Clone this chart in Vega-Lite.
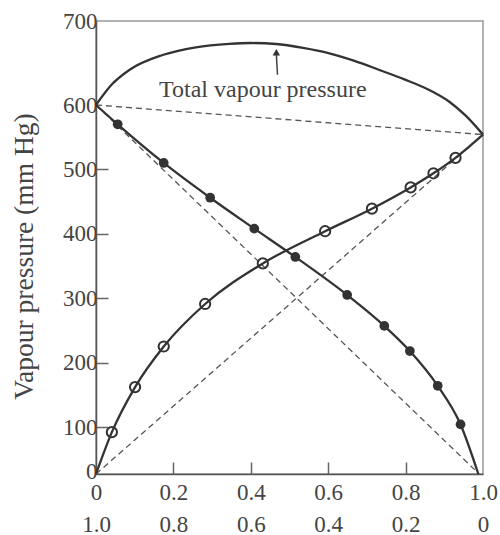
{
  "$schema": "https://vega.github.io/schema/vega-lite/v6.json",
  "width": 387,
  "height": 453,
  "autosize": {"type": "none"},
  "padding": {"left": 96, "top": 21, "right": 17, "bottom": 61},
  "background": "white",
  "config": {
    "view": {"stroke": "#999", "strokeWidth": 1.5},
    "font": "Liberation Serif"
  },
  "datasets": {
    "curves": [
      {"series": "A", "x": 0, "y": 600, "pt": false},
      {"series": "A", "x": 0.056, "y": 570, "pt": true},
      {"series": "A", "x": 0.175, "y": 510, "pt": true},
      {"series": "A", "x": 0.295, "y": 456, "pt": true},
      {"series": "A", "x": 0.409, "y": 408, "pt": true},
      {"series": "A", "x": 0.515, "y": 364, "pt": true},
      {"series": "A", "x": 0.649, "y": 305, "pt": true},
      {"series": "A", "x": 0.745, "y": 257, "pt": true},
      {"series": "A", "x": 0.811, "y": 218, "pt": true},
      {"series": "A", "x": 0.883, "y": 164, "pt": true},
      {"series": "A", "x": 0.942, "y": 104, "pt": true},
      {"series": "A", "x": 0.988, "y": 0, "pt": false},
      {"series": "B", "x": 0, "y": 0, "pt": false},
      {"series": "B", "x": 0.041, "y": 89, "pt": true},
      {"series": "B", "x": 0.101, "y": 162, "pt": true},
      {"series": "B", "x": 0.175, "y": 225, "pt": true},
      {"series": "B", "x": 0.282, "y": 291, "pt": true},
      {"series": "B", "x": 0.431, "y": 354, "pt": true},
      {"series": "B", "x": 0.592, "y": 404, "pt": true},
      {"series": "B", "x": 0.713, "y": 439, "pt": true},
      {"series": "B", "x": 0.813, "y": 472, "pt": true},
      {"series": "B", "x": 0.872, "y": 494, "pt": true},
      {"series": "B", "x": 0.929, "y": 518, "pt": true},
      {"series": "B", "x": 1, "y": 554, "pt": false},
      {"series": "Total", "x": 0, "y": 600, "pt": false},
      {"series": "Total", "x": 0.04, "y": 624, "pt": false},
      {"series": "Total", "x": 0.086, "y": 641.7, "pt": false},
      {"series": "Total", "x": 0.172, "y": 659.5, "pt": false},
      {"series": "Total", "x": 0.258, "y": 668.7, "pt": false},
      {"series": "Total", "x": 0.344, "y": 672.8, "pt": false},
      {"series": "Total", "x": 0.40, "y": 673.8, "pt": false},
      {"series": "Total", "x": 0.465, "y": 672.6, "pt": false},
      {"series": "Total", "x": 0.535, "y": 668, "pt": false},
      {"series": "Total", "x": 0.603, "y": 661.5, "pt": false},
      {"series": "Total", "x": 0.668, "y": 652.5, "pt": false},
      {"series": "Total", "x": 0.732, "y": 641.7, "pt": false},
      {"series": "Total", "x": 0.797, "y": 630.5, "pt": false},
      {"series": "Total", "x": 0.861, "y": 617.9, "pt": false},
      {"series": "Total", "x": 0.913, "y": 603.9, "pt": false},
      {"series": "Total", "x": 0.956, "y": 583, "pt": false},
      {"series": "Total", "x": 1, "y": 554, "pt": false}
    ],
    "ideal": [
      {"series": "A ideal", "x": 0, "y": 600},
      {"series": "A ideal", "x": 0.99, "y": 0},
      {"series": "B ideal", "x": 0, "y": 0},
      {"series": "B ideal", "x": 1, "y": 554},
      {"series": "Total ideal", "x": 0, "y": 600},
      {"series": "Total ideal", "x": 1, "y": 554}
    ],
    "label": [
      {"x": 0.431, "y": 610, "text": "Total vapour pressure"}
    ],
    "arrow": [
      {"x": 0.469, "y": 636, "x2": 0.466, "y2": 660}
    ],
    "arrowhead": [
      {"x": 0.466, "y": 662.7}
    ]
  },
  "encoding": {
    "x": {
      "field": "x",
      "type": "quantitative",
      "scale": {"domain": [0, 1], "nice": false, "zero": false},
      "axis": {
        "values": [0, 0.2, 0.4, 0.6, 0.8, 1],
        "title": null,
        "grid": false,
        "domainColor": "#555",
        "domainWidth": 1.5,
        "tickColor": "#666",
        "tickWidth": 1.5,
        "tickSize": -12,
        "tickOpacity": {"condition": {"test": "datum.value > 0.01 && datum.value < 0.99", "value": 1}, "value": 0},
        "labelFont": "Liberation Serif",
        "labelFontSize": 23,
        "labelColor": "#444",
        "labelPadding": 19,
        "labelLineHeight": 32,
        "labelFlush": false,
        "labelOverlap": false,
        "labelExpr": "[datum.value == 0 ? '0' : format(datum.value, '.1f'), datum.value == 1 ? '0' : format(1 - datum.value, '.1f')]"
      }
    },
    "y": {
      "field": "y",
      "type": "quantitative",
      "scale": {"domain": [0, 100, 600, 700], "range": [453, 406, 84, 0], "nice": false, "zero": false},
      "axis": {
        "values": [0, 100, 200, 300, 400, 500, 600, 700],
        "grid": false,
        "domainColor": "#555",
        "domainWidth": 1.5,
        "tickColor": "#666",
        "tickWidth": 1.5,
        "tickSize": -12,
        "tickOpacity": {"condition": {"test": "datum.value >= 100 && datum.value <= 500", "value": 1}, "value": 0},
        "labelFont": "Liberation Serif",
        "labelFontSize": 23,
        "labelColor": "#444",
        "labelPadding": 11,
        "labelOffset": {"condition": {"test": "datum.value == 0", "value": -3}, "value": 0},
        "labelFlush": false,
        "labelOverlap": false,
        "title": "Vapour pressure (mm Hg)",
        "titleFont": "Liberation Serif",
        "titleFontSize": 27.5,
        "titleFontWeight": "normal",
        "titleColor": "#444",
        "titleX": -64,
        "titleY": 235,
        "titleAngle": -90,
        "titleAlign": "center",
        "titleBaseline": "alphabetic"
      }
    }
  },
  "layer": [
    {
      "data": {"name": "ideal"},
      "mark": {"type": "line", "color": "#555", "strokeWidth": 1.3, "strokeDash": [6, 4]},
      "encoding": {"detail": {"field": "series"}}
    },
    {
      "data": {"name": "curves"},
      "mark": {"type": "line", "color": "#333", "strokeWidth": 2.3, "interpolate": "monotone"},
      "encoding": {"detail": {"field": "series"}}
    },
    {
      "data": {"name": "curves"},
      "transform": [{"filter": "datum.series == 'A' && datum.pt"}],
      "mark": {"type": "point", "shape": "circle", "filled": true, "color": "#333", "size": 95, "opacity": 1}
    },
    {
      "data": {"name": "curves"},
      "transform": [{"filter": "datum.series == 'B' && datum.pt"}],
      "mark": {"type": "point", "shape": "circle", "filled": false, "color": "#333", "strokeWidth": 2, "size": 105, "opacity": 1}
    },
    {
      "data": {"name": "label"},
      "mark": {"type": "text", "font": "Liberation Serif", "fontSize": 24, "color": "#444", "align": "center", "baseline": "alphabetic"},
      "encoding": {"text": {"field": "text"}}
    },
    {
      "data": {"name": "arrow"},
      "mark": {"type": "rule", "color": "#444", "strokeWidth": 1.5},
      "encoding": {"x2": {"field": "x2"}, "y2": {"field": "y2"}}
    },
    {
      "data": {"name": "arrowhead"},
      "mark": {"type": "point", "shape": "triangle-up", "filled": true, "color": "#333", "size": 55, "opacity": 1}
    }
  ]
}
